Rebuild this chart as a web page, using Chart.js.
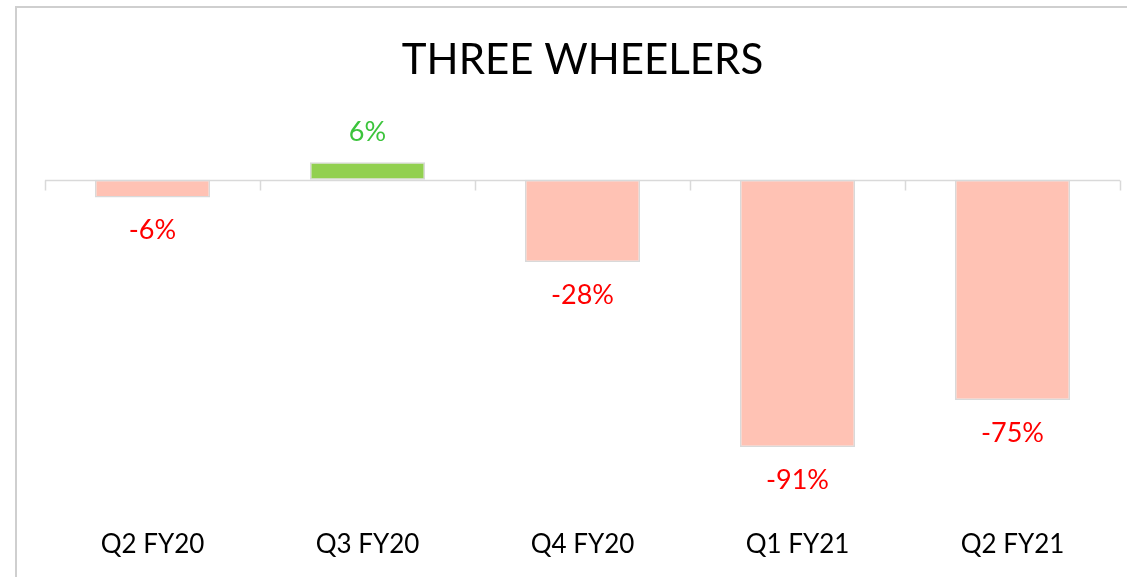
<!DOCTYPE html>
<html><head><meta charset="utf-8">
<script src="https://cdn.jsdelivr.net/npm/chart.js@4.4.0/dist/chart.umd.min.js"></script>
<style>
html,body{margin:0;padding:0;background:#fff;}
#frame{position:absolute;left:15px;top:6px;width:1200px;height:700px;border-left:2px solid #cfcfcf;border-top:2px solid #cfcfcf;}
#wrap{position:absolute;left:0;top:0;width:1127px;height:577px;}
</style></head><body>
<div id="frame"></div>
<div id="wrap"><canvas id="c" width="1127" height="577"></canvas></div>
<script>
const categories = ["Q2 FY20","Q3 FY20","Q4 FY20","Q1 FY21","Q2 FY21"];
const growth = [-6, 6, -28, -91, -75];
const titleText = "THREE WHEELERS";

const FONT = "Lato, 'Open Sans', sans-serif";
const posFill = "#92d050", negFill = "#ffc2b4";
const posText = "#3cc43c", negText = "#ff0000";

const axisPlugin = {
  id: 'zeroAxis',
  afterDatasetsDraw(chart) {
    const {ctx, chartArea, scales:{x, y}} = chart;
    const y0 = Math.round(y.getPixelForValue(0)) + 0.5;
    ctx.save();
    ctx.strokeStyle = "#d9d9d9";
    ctx.lineWidth = 1.5;
    ctx.beginPath();
    ctx.moveTo(chartArea.left, y0);
    ctx.lineTo(chartArea.right, y0);
    const n = categories.length;
    const edges = [chartArea.left];
    for (let i = 1; i < n; i++) edges.push((x.getPixelForValue(i-1) + x.getPixelForValue(i)) / 2);
    edges.push(chartArea.right);
    edges.forEach(px => { const xx = Math.round(px) + 0.5; ctx.moveTo(xx, y0); ctx.lineTo(xx, y0 + 10); });
    ctx.stroke();
    const meta = chart.getDatasetMeta(0);
    ctx.font = "27px " + FONT;
    ctx.textAlign = "center";
    ctx.textBaseline = "middle";
    meta.data.forEach((bar, i) => {
      const v = growth[i];
      ctx.fillStyle = v >= 0 ? posText : negText;
      const ty = v >= 0 ? bar.y - 30 : bar.y + 33;
      ctx.fillText(v + "%", bar.x, ty);
    });
    ctx.restore();
  }
};

new Chart(document.getElementById('c'), {
  type: 'bar',
  data: {
    labels: categories,
    datasets: [{
      data: growth,
      backgroundColor: growth.map(v => v >= 0 ? posFill : negFill),
      borderColor: "#d9d9d9",
      borderWidth: 1.5,
      borderSkipped: false,
      categoryPercentage: 1,
      barPercentage: 0.535
    }]
  },
  options: {
    responsive: false,
    animation: false,
    devicePixelRatio: 1,
    layout: { padding: { left: 45, right: 7, top: 0, bottom: 0 } },
    plugins: {
      legend: { display: false },
      tooltip: { enabled: false },
      title: {
        display: true,
        text: titleText,
        color: "#000",
        font: { family: FONT, size: 42, weight: 'normal' },
        padding: { top: 35, bottom: 65 }
      }
    },
    scales: {
      x: {
        grid: { display: false, drawTicks: false },
        border: { display: false },
        ticks: { color: "#000", font: { family: FONT, size: 26 }, padding: 56, maxRotation: 0 },
        afterFit(scale) { scale.height = 103.6; }
      },
      y: {
        display: false,
        min: -100, max: 10
      }
    }
  },
  plugins: [axisPlugin]
});
</script>
</body></html>
